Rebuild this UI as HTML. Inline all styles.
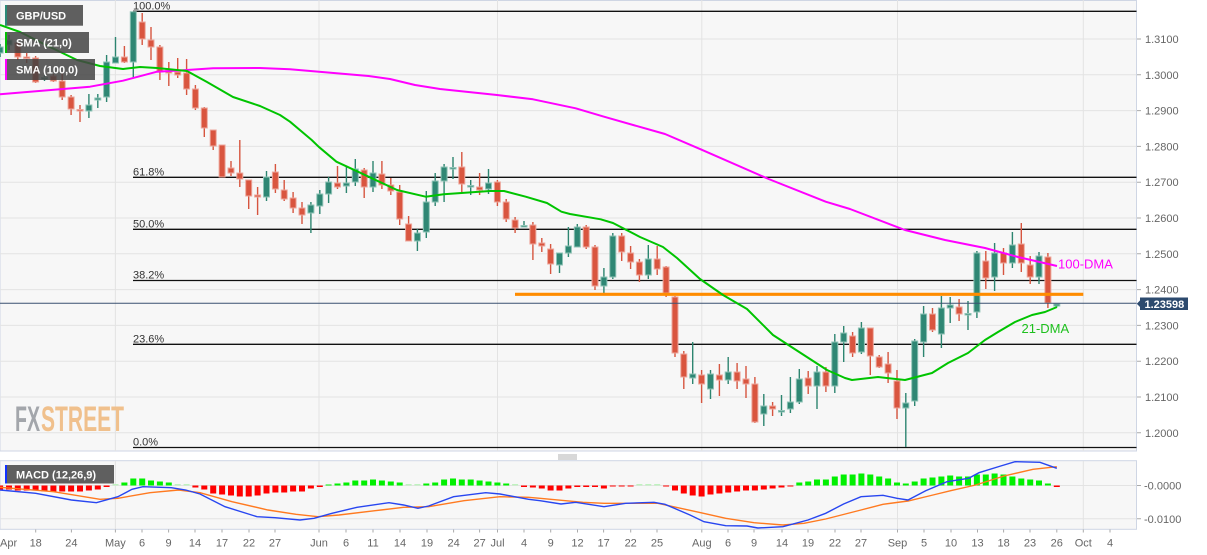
<!DOCTYPE html>
<html><head><meta charset="utf-8"><style>
html,body{margin:0;padding:0;background:#fff;}
svg{display:block;font-family:"Liberation Sans",Arial,sans-serif;}
</style></head><body>
<svg width="1207" height="555" viewBox="0 0 1207 555" xmlns="http://www.w3.org/2000/svg">
<defs>
<clipPath id="cm"><rect x="0" y="0" width="1136.5" height="451"/></clipPath>
<clipPath id="cd"><rect x="0" y="461" width="1136.5" height="68.5"/></clipPath>
</defs>
<rect x="0" y="0" width="1207" height="555" fill="#fff"/>
<!-- main plot bg -->
<rect x="0" y="0.5" width="1136.5" height="450.5" fill="#f7f7f7" stroke="#cfd6e4" stroke-width="1"/>
<!-- macd plot bg -->
<rect x="0" y="460.7" width="1136.5" height="68.6" fill="#f7f7f7" stroke="#cfd6e4" stroke-width="1"/>

<!-- grid main -->
<g stroke="#e3e3e3" stroke-width="1" clip-path="url(#cm)">
<path d="M0 39H1136M0 74.8H1136M0 110.6H1136M0 146.4H1136M0 182.2H1136M0 218H1136M0 253.8H1136M0 289.6H1136M0 325.4H1136M0 361.2H1136M0 397H1136M0 432.8H1136"/>
<path d="M115.4 0V451M319 0V451M497.5 0V451M701.8 0V451M897.5 0V451M1083.3 0V451"/>
</g>
<g stroke="#e3e3e3" stroke-width="1" clip-path="url(#cd)">
<path d="M0 485.5H1136M0 518.8H1136"/>
<path d="M115.4 461V529M319 461V529M497.5 461V529M701.8 461V529M897.5 461V529M1083.3 461V529"/>
</g>

<!-- watermark -->
<text x="15" y="431" font-size="35" font-weight="bold" fill="#a3a6ab" textLength="25" lengthAdjust="spacingAndGlyphs">FX</text>
<text x="41" y="431" font-size="35" font-weight="bold" fill="#f0c08c" textLength="83" lengthAdjust="spacingAndGlyphs">STREET</text>

<!-- fib lines -->
<g stroke="#111" stroke-width="1.3">
<path d="M133 11.3H1136.5M133 177.3H1136.5M133 229.3H1136.5M133 280.5H1136.5M133 344.3H1136.5M133 447.5H1136.5"/>
</g>
<g font-size="11" fill="#333">
<text x="133" y="9.3">100.0%</text>
<text x="133" y="175.5">61.8%</text>
<text x="133" y="227.5">50.0%</text>
<text x="133" y="278.7">38.2%</text>
<text x="133" y="342.5">23.6%</text>
<text x="133" y="445.5">0.0%</text>
</g>

<g clip-path="url(#cm)">
<!-- red candles -->
<path fill="none" stroke="#d6553f" stroke-width="1.4" d="M17.8 40V60M26.7 53V63M35.6 56V83M53.4 74V82M62.2 73V100M71.1 95V115M80 105V122M124.4 46V63M142.2 13V45M151 27V60M159.9 45V80M168.8 62V86M177.7 58V78M186.6 59V95M195.4 85V110M204.3 107V137M213.2 130V150M222.1 145V177M231 161V176M239.8 140V187M248.7 180V209M257.6 187V215M275.4 164V193M284.2 180V201M293.1 192V213M302 202V224M337.5 166V189M364.2 168V198M381.9 161V189M390.8 178V195M399.7 185V225M408.6 216V241M461.8 152V192M479.6 173V195M497.4 180V206M506.2 199V222M515.1 217V233M532.9 222V260M541.8 238V252M550.6 244V274M586.2 225V249M595 245V290M621.7 233V261M630.6 246V269M639.4 259V282M657.2 246V275M666.1 266V297M675 296V357M683.8 351V389M701.6 370V403M719.4 364V396M737.1 363V389M746 366V398M754.9 377V423M772.6 402V416M808.2 371V394M825.9 367V392M852.6 332V357M870.3 328V375M879.2 355V368M888.1 352V383M897 370V419M932.5 308V332M959.1 299V321M985.8 251V289M1003.5 248V275M1021.3 223V272M1030.2 256V284M1047.9 253V308"/>
<path fill="#d9553f" stroke="#eda79c" stroke-width="1" d="M14.8 43h6v14h-6zM23.7 57h6v1.5h-6zM32.6 58h6v24h-6zM50.4 76h6v5h-6zM59.2 81h6v16h-6zM68.1 97h6v12h-6zM77 109.5h6v1.5h-6zM121.4 57h6v5h-6zM139.2 22h6v17h-6zM148 40h6v7h-6zM156.9 47h6v25h-6zM165.8 70h6v3h-6zM174.7 72h6v3h-6zM183.6 73h6v16h-6zM192.4 89h6v19h-6zM201.3 108h6v20h-6zM210.2 130h6v16h-6zM219.1 145h6v32h-6zM228 168h6v5h-6zM236.8 173h6v6h-6zM245.7 180h6v16h-6zM254.6 195h6v2h-6zM272.4 172h6v17h-6zM281.2 190h6v9h-6zM290.1 198h6v10h-6zM299 208h6v7h-6zM334.5 183h6v4h-6zM361.2 170h6v17h-6zM378.9 174h6v11h-6zM387.8 185h6v6h-6zM396.7 192h6v27h-6zM405.6 224h6v17h-6zM458.8 167h6v17h-6zM476.6 187h6v3h-6zM494.4 182h6v20h-6zM503.2 202h6v17h-6zM512.1 220h6v8h-6zM529.9 225h6v19h-6zM538.8 243h6v3h-6zM547.6 249h6v15h-6zM583.2 227h6v20h-6zM592 247h6v39h-6zM618.7 236h6v16h-6zM627.6 253h6v9h-6zM636.4 262h6v13h-6zM654.2 259h6v10h-6zM663.1 267h6v26h-6zM672 297h6v56h-6zM680.8 354h6v23h-6zM698.6 375h6v9h-6zM716.4 375h6v5h-6zM734.1 372h6v9h-6zM743 379h6v5h-6zM751.9 384h6v38h-6zM769.6 406h6v3h-6zM805.2 378h6v8h-6zM822.9 372h6v14h-6zM849.6 336h6v17h-6zM867.3 328h6v28h-6zM876.2 357h6v10h-6zM885.1 364h6v9h-6zM894 381h6v27h-6zM929.5 314h6v16h-6zM956.1 307h6v7h-6zM982.8 261h6v17h-6zM1000.5 253h6v10h-6zM1018.3 244h6v19h-6zM1027.2 265h6v12h-6zM1044.9 257h6v46h-6z"/>
<!-- green candles -->
<path fill="none" stroke="#2d8570" stroke-width="1.4" d="M0.1 44V57M9 35V50M44.5 75V81M88.9 94V118M97.8 94V108M106.6 55V102M115.5 37V63M133.3 11.7V78M266.5 171V201M310.9 202V233M319.8 190V214M328.6 177V203M346.4 166V193M355.3 159V186M373 161V192M417.4 229V251M426.3 191V238M435.2 173V206M444.1 164V202M453 157V179M470.7 180V195M488.5 169V194M524 221V227M559.5 253V273M568.4 227V257M577.3 224V247M603.9 268V293M612.8 233V279M648.3 245V279M692.7 342V384M710.5 370V399M728.2 357V384M763.8 394V426M781.5 395V416M790.4 377V413M799.3 369V404M817 366V409M834.8 334V393M843.7 326V362M861.4 322V354M905.8 393V447M914.7 339V406M923.6 306V357M941.4 296V348M950.2 297V323M968 301V330M976.9 251V318M994.6 243V291M1012.4 232V268M1039 252V284M1056.8 303V307"/>
<path fill="#2f8774" stroke="#8fc3b6" stroke-width="1" d="M-2.9 47h6v6h-6zM6 40h6v5h-6zM41.5 77.5h6v1.5h-6zM85.9 105h6v6h-6zM94.8 98h6v2h-6zM103.6 62h6v35h-6zM112.5 57h6v6h-6zM130.3 11.7h6v50.3h-6zM263.5 177h6v20h-6zM307.9 205h6v8h-6zM316.8 194h6v12h-6zM325.6 182h6v12h-6zM343.4 183h6v3h-6zM352.3 169h6v13h-6zM370 173h6v14h-6zM414.4 233h6v8h-6zM423.3 202h6v30h-6zM432.2 181h6v21h-6zM441.1 167h6v14h-6zM450 167.5h6v1.5h-6zM467.7 185.5h6v1.5h-6zM485.5 183h6v6h-6zM521 225.5h6v1.5h-6zM556.5 253h6v12h-6zM565.4 246h6v7h-6zM574.3 227h6v20h-6zM600.9 277h6v9h-6zM609.8 236h6v41h-6zM645.3 259h6v16h-6zM689.7 374h6v4h-6zM707.5 374h6v15h-6zM725.2 372h6v8h-6zM760.8 406h6v8h-6zM778.5 410.5h6v1.5h-6zM787.4 402h6v7h-6zM796.3 379h6v23h-6zM814 372h6v14h-6zM831.8 342h6v44h-6zM840.7 333h6v9h-6zM858.4 328h6v24h-6zM902.8 403h6v5h-6zM911.7 341h6v60h-6zM920.6 314h6v28h-6zM938.4 308h6v26h-6zM947.2 305h6v3h-6zM965 313.5h6v1.5h-6zM973.9 253h6v59h-6zM991.6 253h6v24h-6zM1009.4 245h6v18h-6zM1036 256h6v21h-6zM1053.8 304h6v2h-6z"/>

<!-- orange support line -->
<path d="M515 294.3H1083.3" stroke="#ff8c00" stroke-width="3.2"/>
<!-- price line -->
<path d="M0 303.3H1136.5" stroke="#3a5070" stroke-width="1"/>

<!-- SMA 100 -->
<polyline fill="none" stroke="#ff00ff" stroke-width="2" stroke-linejoin="round" points="0,94.3 90,86.7 123,80.7 157,71.7 187,70 213,68.3 260,68 290,69.3 368.6,76 390,79 415,85 440,89 497,95 533,99.3 575.7,108.3 604,116.7 665,134 700.7,149.3 768.6,179 825.7,201.7 850,209 905,230 945,240 985,248 1018,257 1057,266"/>
<!-- SMA 21 -->
<polyline fill="none" stroke="#00c400" stroke-width="2" stroke-linejoin="round" points="0,25 20,32 50,47 77,60 100,66 123,69 140,67 157,68 187,71 207,82 233,97 260,106 280,115 290,121.7 311.7,140 318.6,146.7 336.4,161.7 361.4,173.3 397,190 425.7,196.7 443.6,194.3 490,191 504,191 525.7,196.7 547,203 561.4,211.7 570,214 600.7,219.3 613,223 640,237 663,247 677,258 700,279 723,295 747,309 773,335 793,348 827,370 845,378 852,380 878,377 905,380 932,373 948,363 968,353 985,340 998,332 1015,322 1032,315 1045,312 1057,307"/>
</g>

<text x="1058" y="268.5" font-size="13" fill="#ff00ff">100-DMA</text>
<text x="1021.5" y="332.8" font-size="13" fill="#1ec01e">21-DMA</text>

<!-- top-left legend boxes -->
<g font-size="11" font-weight="bold" fill="#fff">
<rect x="5" y="5" width="78" height="20.7" fill="rgba(68,68,68,0.85)"/>
<rect x="5" y="5" width="2" height="20.7" fill="#2b8a78"/>
<text x="16" y="19.3">GBP/USD</text>
<rect x="5" y="32" width="84" height="21" fill="rgba(68,68,68,0.85)"/>
<rect x="5" y="32" width="2" height="21" fill="#00c000"/>
<text x="16" y="46.5">SMA (21,0)</text>
<rect x="5" y="59" width="90" height="21" fill="rgba(68,68,68,0.85)"/>
<rect x="5" y="59" width="2" height="21" fill="#ff00ff"/>
<text x="16" y="73.5">SMA (100,0)</text>
</g>

<!-- right price axis -->
<g stroke="#aaa" stroke-width="1">
<path d="M1137 39H1141M1137 74.8H1141M1137 110.6H1141M1137 146.4H1141M1137 182.2H1141M1137 218H1141M1137 253.8H1141M1137 289.6H1141M1137 325.4H1141M1137 361.2H1141M1137 397H1141M1137 432.8H1141M1137 485.5H1141M1137 518.8H1141"/>
</g>
<g font-size="11" fill="#666">
<text x="1145" y="43">1.3100</text>
<text x="1145" y="78.8">1.3000</text>
<text x="1145" y="114.6">1.2900</text>
<text x="1145" y="150.4">1.2800</text>
<text x="1145" y="186.2">1.2700</text>
<text x="1145" y="222">1.2600</text>
<text x="1145" y="257.8">1.2500</text>
<text x="1145" y="293.6">1.2400</text>
<text x="1145" y="329.4">1.2300</text>
<text x="1145" y="365.2">1.2200</text>
<text x="1145" y="401">1.2100</text>
<text x="1145" y="436.8">1.2000</text>
<text x="1144" y="489.5">-0.0000</text>
<text x="1144" y="522.8">-0.0100</text>
</g>
<!-- price tag -->
<path d="M1136.8 303.7L1140.5 300V307.5Z" fill="#2c4a6e"/>
<rect x="1140" y="297.5" width="48" height="12.5" fill="#2c4a6e"/>
<text x="1144.5" y="307.8" font-size="11" font-weight="bold" fill="#fff">1.23598</text>

<!-- separator grip -->
<path d="M558 455H577M558 457H577M558 459H577" stroke="#999" stroke-width="0.8"/>

<!-- MACD -->
<g clip-path="url(#cd)">
<path fill="#ff0000" d="M-2.9 485.5h6v4h-6zM6 485.5h6v4h-6zM14.8 485.5h6v5h-6zM23.7 485.5h6v5h-6zM32.6 485.5h6v5h-6zM41.5 485.5h6v6h-6zM50.4 485.5h6v6h-6zM59.2 485.5h6v6h-6zM68.1 485.5h6v6h-6zM77 485.5h6v6h-6zM85.9 485.5h6v5h-6zM94.8 485.5h6v4h-6zM103.6 485.5h6v1.5h-6zM192.4 485.5h6v2h-6zM201.3 485.5h6v4h-6zM210.2 485.5h6v8h-6zM219.1 485.5h6v9h-6zM228 485.5h6v10h-6zM236.8 485.5h6v11h-6zM245.7 485.5h6v11h-6zM254.6 485.5h6v10h-6zM263.5 485.5h6v8h-6zM272.4 485.5h6v7h-6zM281.2 485.5h6v7h-6zM290.1 485.5h6v6h-6zM299 485.5h6v6h-6zM307.9 485.5h6v3h-6zM316.8 485.5h6v1.5h-6zM521 485.5h6v1.5h-6zM529.9 485.5h6v2h-6zM538.8 485.5h6v3h-6zM547.6 485.5h6v5h-6zM556.5 485.5h6v5h-6zM565.4 485.5h6v3h-6zM574.3 485.5h6v1.5h-6zM583.2 485.5h6v1.5h-6zM592 485.5h6v1.5h-6zM600.9 485.5h6v3h-6zM609.8 485.5h6v1h-6zM618.7 485.5h6v1h-6zM627.6 485.5h6v1h-6zM663.1 485.5h6v1h-6zM672 485.5h6v5h-6zM680.8 485.5h6v8h-6zM689.7 485.5h6v10h-6zM698.6 485.5h6v11h-6zM707.5 485.5h6v9h-6zM716.4 485.5h6v8h-6zM725.2 485.5h6v7h-6zM734.1 485.5h6v6h-6zM743 485.5h6v5h-6zM751.9 485.5h6v5h-6zM760.8 485.5h6v4h-6zM769.6 485.5h6v3h-6zM778.5 485.5h6v2h-6zM787.4 485.5h6v1h-6zM1053.8 485.5h6v1.5h-6z"/>
<path fill="#00f000" d="M121.4 482.5h6v3h-6zM130.3 478.5h6v7h-6zM139.2 478.5h6v7h-6zM148 480.5h6v5h-6zM156.9 481.5h6v4h-6zM165.8 482.5h6v3h-6zM325.6 484.5h6v1h-6zM334.5 483.5h6v2h-6zM343.4 482.5h6v3h-6zM352.3 480.5h6v5h-6zM361.2 480.5h6v5h-6zM370 479.5h6v6h-6zM378.9 480.5h6v5h-6zM387.8 481.5h6v4h-6zM396.7 482.5h6v3h-6zM423.3 483.5h6v2h-6zM432.2 482.5h6v3h-6zM441.1 479.5h6v6h-6zM450 478.5h6v7h-6zM458.8 479.5h6v6h-6zM467.7 479.5h6v6h-6zM476.6 480.5h6v5h-6zM485.5 481.5h6v4h-6zM494.4 482.5h6v3h-6zM503.2 483.5h6v2h-6zM796.3 482.5h6v3h-6zM805.2 481.5h6v4h-6zM814 479.5h6v6h-6zM822.9 479.5h6v6h-6zM831.8 476.5h6v9h-6zM840.7 474.5h6v11h-6zM849.6 474.5h6v11h-6zM858.4 473.5h6v12h-6zM867.3 474.5h6v11h-6zM876.2 476.5h6v9h-6zM885.1 478.5h6v7h-6zM894 482.5h6v3h-6zM902.8 483.5h6v2h-6zM911.7 481.5h6v4h-6zM920.6 478.5h6v7h-6zM929.5 477.5h6v8h-6zM938.4 476.5h6v9h-6zM947.2 475.5h6v10h-6zM956.1 476.5h6v9h-6zM965 476.5h6v9h-6zM973.9 474.5h6v11h-6zM982.8 474.5h6v11h-6zM991.6 473.5h6v12h-6zM1000.5 474.5h6v11h-6zM1009.4 476.5h6v9h-6zM1018.3 478.5h6v7h-6zM1027.2 479.5h6v6h-6zM1036 480.5h6v5h-6zM1044.9 483.5h6v2h-6z"/>
<path fill="#bff2bf" d="M112.5 484h6v1.5h-6zM174.7 484h6v1.5h-6zM183.6 484h6v1.5h-6zM405.6 484h6v1.5h-6zM414.4 484h6v1.5h-6zM512.1 484h6v1.5h-6zM636.4 484h6v1.5h-6zM645.3 484h6v1.5h-6zM654.2 484h6v1.5h-6z"/>
<polyline fill="none" stroke="#ff7a20" stroke-width="1.4" points="0,487.3 53.6,491.7 100,499.3 117.9,498.3 150,492.7 178.6,490 200,492.7 232,501.7 268,510 296,514.3 318,516.7 339,515 375,510.7 403.6,507.3 428.6,506.7 464,500.7 500,496.7 528.6,497.3 540,498.3 582.9,502.3 604,503.3 657.9,503.3 700.7,512.7 725.7,518.3 754,522.7 782.9,525 804,523.3 825.7,519 861,510 883,504.3 908,501 933,495 950.7,490.7 975.7,485 1004,476 1033,469.3 1056.8,466.7"/>
<polyline fill="none" stroke="#2846f0" stroke-width="1.4" points="0,490 35.7,493.3 71.4,500 96.4,502.7 117.9,496.7 132,489.3 142.9,486.7 171.4,487.7 185.7,490 200,494 225,506.7 257,516.7 275,517.7 300,520 314,518.3 332,513.3 357,507.3 389,502.7 403.6,505 417.9,508.3 428.6,506 453.6,496.7 485.7,492.7 500,494 528.6,499.3 540,500.7 561,504 575.7,502.3 604,506.7 625.7,503.3 654,502.3 665,504.3 690,515 704,521.7 725.7,525.7 747,526 757.9,528 782.9,526.7 808,520 825.7,513.3 843.6,504 861,496.7 883,495.3 897,498.3 908,500 925.7,490.7 947,481.7 968.6,478.3 979,472.7 1000.7,466 1015,461.7 1040,462.3 1056.8,468.3"/>
</g>
<g font-size="11" font-weight="bold" fill="#fff">
<rect x="5" y="465" width="109" height="18.5" fill="rgba(68,68,68,0.85)"/>
<rect x="5" y="465" width="2" height="18.5" fill="#1030ff"/>
<text x="16" y="478.3">MACD (12,26,9)</text>
</g>

<!-- x axis ticks -->
<path stroke="#aaa" stroke-width="1" d="M35.7 529.5V532.5M71.4 529.5V532.5M115.4 529.5V532.5M142 529.5V532.5M168.6 529.5V532.5M195 529.5V532.5M222 529.5V532.5M249 529.5V532.5M275 529.5V532.5M319 529.5V532.5M346 529.5V532.5M373 529.5V532.5M400 529.5V532.5M427 529.5V532.5M453.6 529.5V532.5M479.6 529.5V532.5M497.5 529.5V532.5M524 529.5V532.5M550.7 529.5V532.5M577.5 529.5V532.5M603.6 529.5V532.5M630.7 529.5V532.5M657 529.5V532.5M701.8 529.5V532.5M728 529.5V532.5M754 529.5V532.5M782 529.5V532.5M808 529.5V532.5M835 529.5V532.5M861 529.5V532.5M897.5 529.5V532.5M924 529.5V532.5M951 529.5V532.5M977.5 529.5V532.5M1003.6 529.5V532.5M1030 529.5V532.5M1056.8 529.5V532.5M1083.3 529.5V532.5M1110 529.5V532.5"/>
<g font-size="11" fill="#666" text-anchor="middle">
<text x="0" y="546.5" text-anchor="start">Apr</text>
<text x="35.7" y="546.5">18</text>
<text x="71.4" y="546.5">24</text>
<text x="115.4" y="546.5">May</text>
<text x="142" y="546.5">6</text>
<text x="168.6" y="546.5">9</text>
<text x="195" y="546.5">14</text>
<text x="222" y="546.5">17</text>
<text x="249" y="546.5">22</text>
<text x="275" y="546.5">27</text>
<text x="319" y="546.5">Jun</text>
<text x="346" y="546.5">6</text>
<text x="373" y="546.5">11</text>
<text x="400" y="546.5">14</text>
<text x="427" y="546.5">19</text>
<text x="453.6" y="546.5">24</text>
<text x="479.6" y="546.5">27</text>
<text x="497.5" y="546.5">Jul</text>
<text x="524" y="546.5">4</text>
<text x="550.7" y="546.5">9</text>
<text x="577.5" y="546.5">12</text>
<text x="603.6" y="546.5">17</text>
<text x="630.7" y="546.5">22</text>
<text x="657" y="546.5">25</text>
<text x="701.8" y="546.5">Aug</text>
<text x="728" y="546.5">6</text>
<text x="754" y="546.5">9</text>
<text x="782" y="546.5">14</text>
<text x="808" y="546.5">19</text>
<text x="835" y="546.5">22</text>
<text x="861" y="546.5">27</text>
<text x="897.5" y="546.5">Sep</text>
<text x="924" y="546.5">5</text>
<text x="951" y="546.5">10</text>
<text x="977.5" y="546.5">13</text>
<text x="1003.6" y="546.5">18</text>
<text x="1030" y="546.5">23</text>
<text x="1056.8" y="546.5">26</text>
<text x="1083.3" y="546.5">Oct</text>
<text x="1110" y="546.5">4</text>
</g>
</svg>
</body></html>
